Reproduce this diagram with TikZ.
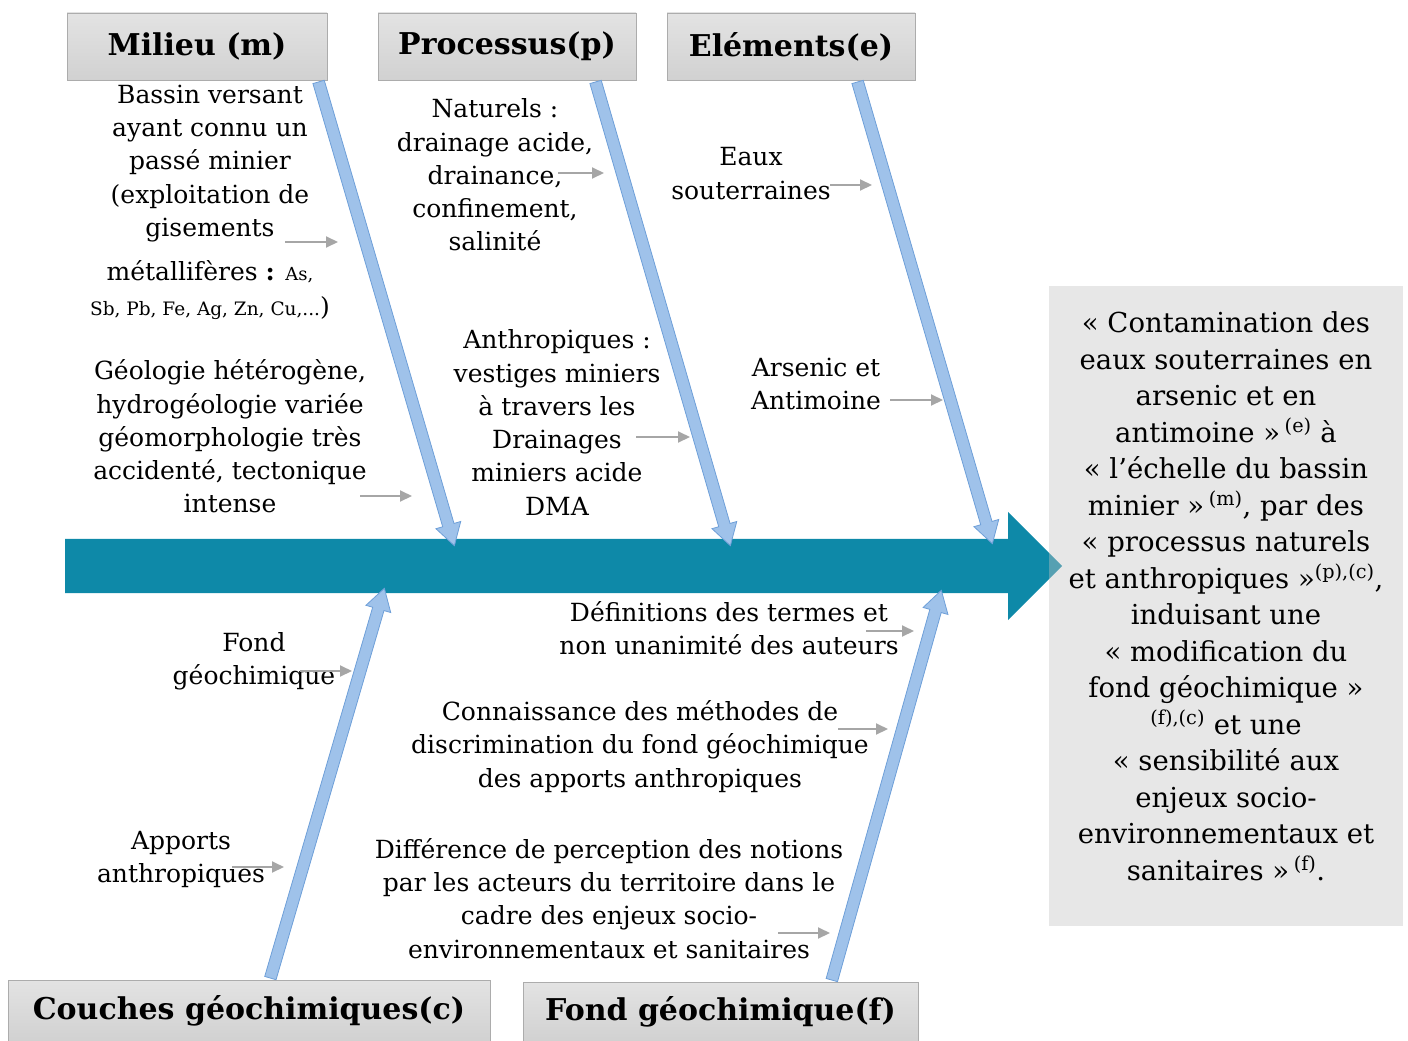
\documentclass[tikz,border=0pt]{standalone}
\usepackage{fontspec}
\setmainfont{DejaVu Serif}
\usetikzlibrary{shapes.arrows,calc,arrows.meta}
\definecolor{spineblue}{HTML}{0E89A8}
\definecolor{bonefill}{HTML}{9FC2EA}
\definecolor{boneline}{HTML}{6E9FD8}
\definecolor{pointgray}{HTML}{A6A6A6}
\definecolor{effectbg}{HTML}{C3C3C3}
\newcommand{\bonearrow}[3]{%
  \path let \p1=($(#3)-(#2)$), \n1={veclen(\x1,\y1)}, \n2={atan2(\y1,\x1)} in
    node (#1) [bone, minimum height=\n1, rotate=\n2] at ($(#2)!0.5!(#3)$) {};}

\begin{document}
\begin{tikzpicture}[x=1pt, y=-1pt,
	header/.style={draw=gray!65, top color=gray!22, bottom color=gray!36, inner sep=0pt, font=\fontsize{30}{32}\selectfont\bfseries},
	cause/.style={align=center, inner sep=0pt, font=\fontsize{25}{33.3}\selectfont},
	bone/.style={single arrow, draw=boneline, fill=bonefill, line width=0.8pt, inner xsep=0pt, inner ysep=5.5pt, single arrow head extend=7pt, single arrow tip angle=62},
	pointer/.style={draw=pointgray, line width=2pt, -{Triangle[length=12pt,width=11pt]}}]
	\useasboundingbox (0,0) rectangle (1408,1041);
	% spine and effect
	\node (spine) [single arrow, fill=spineblue, anchor=tail, minimum height=997, inner xsep=0pt, inner ysep=27pt, single arrow head extend=27pt, single arrow tip angle=90] at (65,566) {};
	\node (effect) [fill=effectbg, fill opacity=0.4, minimum width=354, minimum height=640, inner sep=0pt] at (1226,606) {};
	\node (effecttext) [align=center, inner sep=0pt, font=\fontsize{27.5}{36.5}\selectfont] at (1226,596) {%
		« Contamination des\\ eaux souterraines en\\ arsenic et en\\ antimoine »\,\textsuperscript{(e)} à\\
		« l’échelle du bassin\\ minier »\,\textsuperscript{(m)}, par des\\ « processus naturels\\ et anthropiques »\textsuperscript{(p),(c)},\\
		induisant une\\ « modification du\\ fond géochimique »\\ \textsuperscript{(f),(c)} et une\\
		« sensibilité aux\\ enjeux socio-\\ environnementaux et\\ sanitaires »\,\textsuperscript{(f)}.};
	% category boxes
	\node (milieu) [header, minimum width=260, minimum height=67] at (197,46.5) {Milieu (m)};
	\node (processus) [header, minimum width=258, minimum height=67] at (507,46.5) {Processus(p)};
	\node (elements) [header, minimum width=248, minimum height=67] at (791,46.5) {Eléments(e)};
	\node (couches) [header, minimum width=482, minimum height=61] at (249,1010.5) {Couches géochimiques(c)};
	\node (fond) [header, minimum width=395, minimum height=59] at (720.5,1011.5) {Fond géochimique(f)};
	% bones
	\coordinate (mtop) at ($(milieu.south east)+(-10,-3)$);
	\coordinate (ptop) at ($(processus.south east)+(-42,-3)$);
	\coordinate (etop) at ($(elements.south east)+(-59,-3)$);
	\coordinate (cbot) at ($(couches.north)+(20,3)$);
	\coordinate (fbot) at ($(fond.north)+(110,3)$);
	\coordinate (mtip) at (453,541);
	\coordinate (ptip) at (729,541);
	\coordinate (etip) at (991,539);
	\coordinate (ctip) at (383,593);
	\coordinate (ftip) at (940,595);
	\bonearrow{mbone}{mtop}{mtip}
	\bonearrow{pbone}{ptop}{ptip}
	\bonearrow{ebone}{etop}{etip}
	\bonearrow{cbone}{cbot}{ctip}
	\bonearrow{fbone}{fbot}{ftip}
	% causes
	\node (bassin) [cause] at (210,163.5) {Bassin versant\\ ayant connu un\\ passé minier\\ (exploitation de\\ gisements};
	\node (metal) [cause] at (210,272) {métallifères \textbf{:} {\fontsize{18}{20}\selectfont As,}};
	\node (metals) [cause] at (210,308) {{\fontsize{18.5}{20}\selectfont Sb, Pb, Fe, Ag, Zn, Cu,...})};
	\node (geologie) [cause] at (230,436.5) {Géologie hétérogène,\\ hydrogéologie variée\\ géomorphologie très\\ accidenté, tectonique\\ intense};
	\node (naturels) [cause] at (495,175) {Naturels :\\ drainage acide,\\ drainance,\\ confinement,\\ salinité};
	\node (anthropiques) [cause] at (557,422.5) {Anthropiques :\\ vestiges miniers\\ à travers les\\ Drainages\\ miniers acide\\ DMA};
	\node (eaux) [cause] at (751,173.5) {Eaux\\ souterraines};
	\node (arsenic) [cause] at (816,384) {Arsenic et\\ Antimoine};
	\node (definitions) [cause] at (729,628.5) {Définitions des termes et\\ non unanimité des auteurs};
	\node (fondgeo) [cause] at (254,661.5) {Fond\\ géochimique};
	\node (connaissance) [cause] at (640,746.5) {Connaissance des méthodes de\\ discrimination du fond géochimique\\ des apports anthropiques};
	\node (apports) [cause] at (181,859.5) {Apports\\ anthropiques};
	\node (difference) [cause] at (609,898.5) {Différence de perception des notions\\ par les acteurs du territoire dans le\\ cadre des enjeux socio-\\ environnementaux et sanitaires};
	% small pointers
	\foreach \n/\x/\y/\l in {1/285/242/53, 2/360/496/52, 3/558/173/46, 4/636/437/54, 5/830/185/42, 6/890/400/53,
		7/866/631/48, 8/838/729/50, 9/778/933/52, 10/300/671/52, 11/232/867/52}{
		\coordinate (q\n) at (\x,\y);
		\draw[pointer] (q\n) -- ++(\l,0);
	}
\end{tikzpicture}
\end{document}
